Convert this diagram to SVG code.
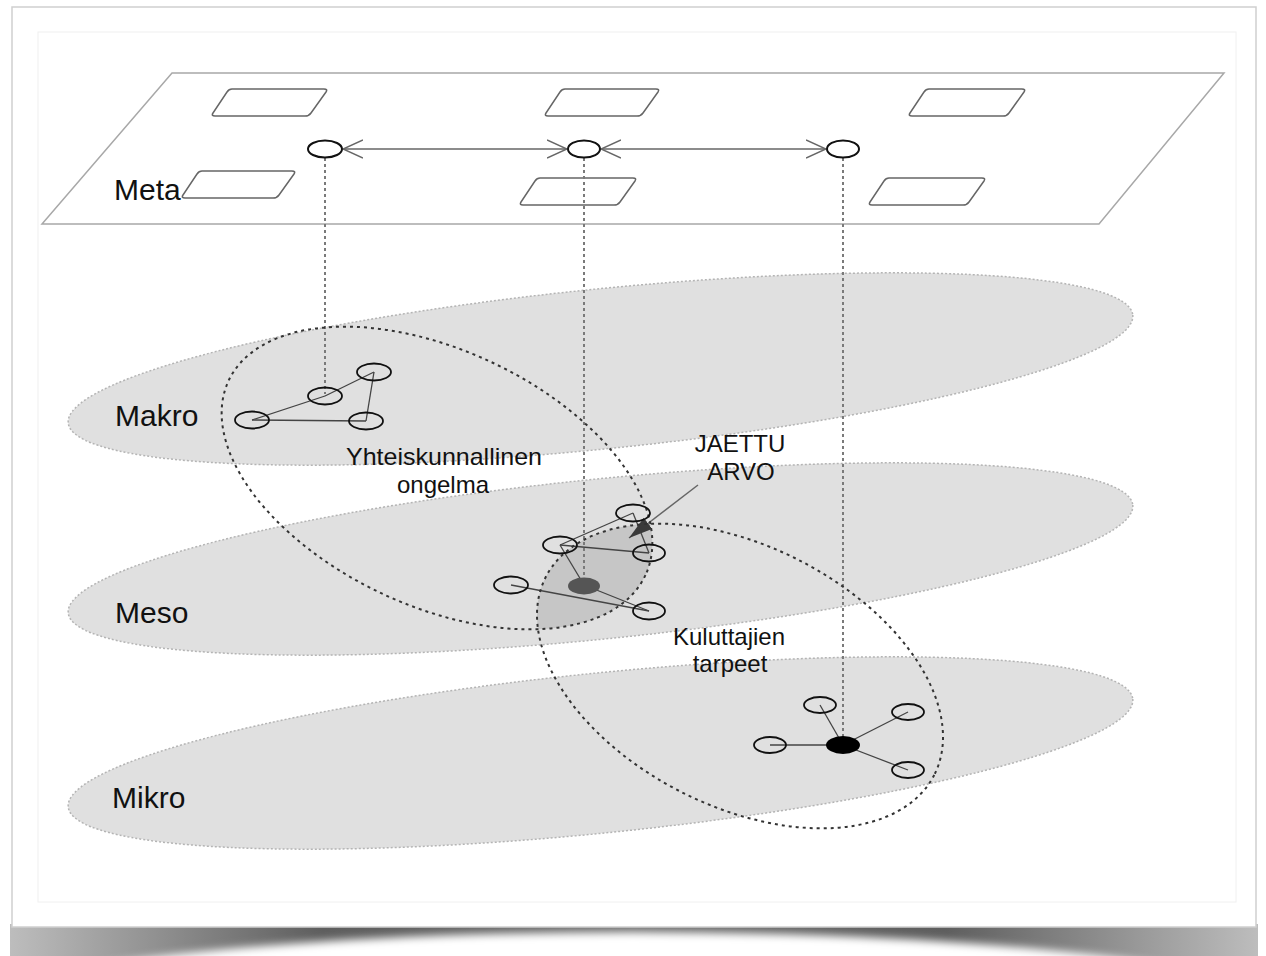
<svg xmlns="http://www.w3.org/2000/svg" width="1266" height="956" viewBox="0 0 1266 956">
  <defs>
    <style>
      .layer{fill:#e0e0e0;stroke:#b4b4b4;stroke-width:1.5;stroke-dasharray:2 2}
      .plane{fill:#fff;stroke:#a8a8a8;stroke-width:1.5}
      .slot{fill:none;stroke:#666;stroke-width:1.5;stroke-linejoin:round}
      .node{fill:none;stroke:#111;stroke-width:1.8}
      .metanode{fill:#fff;stroke:#111;stroke-width:2}
      .edge{stroke:#444;stroke-width:1.3;fill:none}
      .link{stroke:#666;stroke-width:1.5;fill:none}
      .drop{stroke:#7a7a7a;stroke-width:2;stroke-dasharray:3 3;fill:none}
      .scope{fill:none;stroke:#333;stroke-width:2;stroke-dasharray:3 4}
      .lbl{font-family:"Liberation Sans",Arial,sans-serif;fill:#111}
      .big{font-size:30px}
      .small{font-size:24px}
    </style>
    <marker id="open" viewBox="0 0 20 20" refX="20" refY="10" markerWidth="20" markerHeight="20" markerUnits="userSpaceOnUse" orient="auto-start-reverse">
      <path d="M0,1 L20,10 L0,19" fill="none" stroke="#666" stroke-width="1.5"/>
    </marker>
    <marker id="solid" viewBox="0 0 24 14" refX="24" refY="7" markerWidth="24" markerHeight="14" markerUnits="userSpaceOnUse" orient="auto">
      <path d="M0,0 L24,7 L0,14 Z" fill="#3a3a3a"/>
    </marker>
    <clipPath id="socialClip">
      <ellipse cx="437" cy="478" rx="230" ry="128" transform="rotate(25 437 478)"/>
    </clipPath>
    <linearGradient id="shade" x1="0" y1="0" x2="1" y2="0">
      <stop offset="0" stop-color="#bdbdbd"/>
      <stop offset="0.25" stop-color="#5e5e5e"/>
      <stop offset="0.5" stop-color="#6a6a6a"/>
      <stop offset="0.75" stop-color="#5e5e5e"/>
      <stop offset="1" stop-color="#bdbdbd"/>
    </linearGradient>
    <filter id="soft" x="-10%" y="-50%" width="120%" height="200%">
      <feGaussianBlur stdDeviation="4"/>
    </filter>
  </defs>

  <!-- paper sheet with curled drop shadow -->
  <g id="sheet">
    <rect x="0" y="0" width="1266" height="956" fill="#fff"/>
    <rect x="10" y="924" width="1248" height="32" fill="url(#shade)"/>
    <ellipse cx="633" cy="1010" rx="650" ry="78" fill="#fff" filter="url(#soft)"/>
    <rect x="12" y="7" width="1244" height="920" fill="#fff" stroke="#cfcfcf" stroke-width="1.5"/>
    <rect x="38" y="32" width="1198" height="870" fill="none" stroke="#f0f0f0" stroke-width="1"/>
  </g>

  <!-- grey level bands -->
  <g id="levels">
    <ellipse id="makro-band" class="layer" cx="600.5" cy="369" rx="535" ry="80" transform="rotate(-5.79 600.5 369)"/>
    <ellipse id="meso-band" class="layer" cx="600.5" cy="559" rx="535" ry="80" transform="rotate(-5.79 600.5 559)"/>
    <ellipse id="mikro-band" class="layer" cx="600.5" cy="753" rx="535" ry="80" transform="rotate(-5.79 600.5 753)"/>
  </g>

  <!-- overlap of the two scopes -->
  <g id="shared-area" clip-path="url(#socialClip)">
    <ellipse cx="740" cy="676" rx="218" ry="130" transform="rotate(27 740 676)" fill="#c6c6c6"/>
  </g>

  <!-- meta plane -->
  <g id="meta">
    <polygon class="plane" points="172,73 1224,73 1099,224 42,224"/>
    <path class="slot" d="M232,89 L324,89 Q328,89 326,92 L311,113 Q309,116 305,116 L215,116 Q211,116 213,113 L227,92 Q229,89 232,89 Z"/>
    <path class="slot" d="M565,89 L656,89 Q660,89 658,92 L643,113 Q641,116 637,116 L548,116 Q544,116 546,113 L560,92 Q562,89 565,89 Z"/>
    <path class="slot" d="M929,89 L1022,89 Q1026,89 1024,92 L1009,113 Q1007,116 1003,116 L912,116 Q908,116 910,113 L924,92 Q926,89 929,89 Z"/>
    <path class="slot" d="M202,171 L292,171 Q296,171 294,174 L279,195 Q277,198 273,198 L185,198 Q181,198 183,195 L197,174 Q199,171 202,171 Z"/>
    <path class="slot" d="M540,178 L633,178 Q637,178 635,181 L620,202 Q618,205 614,205 L523,205 Q519,205 521,202 L535,181 Q537,178 540,178 Z"/>
    <path class="slot" d="M889,178 L982,178 Q986,178 984,181 L969,202 Q967,205 963,205 L872,205 Q868,205 870,202 L884,181 Q886,178 889,178 Z"/>
    <text class="lbl big" x="114" y="200">Meta</text>
  </g>

  <!-- connectors -->
  <g id="connectors">
    <line class="drop" x1="325" y1="158" x2="325" y2="394"/>
    <line class="drop" x1="584" y1="158" x2="584" y2="580"/>
    <line class="drop" x1="843" y1="158" x2="843" y2="742"/>
    <line class="link" x1="343" y1="149" x2="567" y2="149" marker-start="url(#open)" marker-end="url(#open)"/>
    <line class="link" x1="601" y1="149" x2="826" y2="149" marker-start="url(#open)" marker-end="url(#open)"/>
    <!-- makro network -->
    <line class="edge" x1="325" y1="396" x2="374" y2="372"/>
    <line class="edge" x1="374" y1="372" x2="366" y2="421"/>
    <line class="edge" x1="252" y1="420" x2="325" y2="396"/>
    <line class="edge" x1="252" y1="420" x2="366" y2="421"/>
    <!-- meso network -->
    <line class="edge" x1="560" y1="545" x2="633" y2="513"/>
    <line class="edge" x1="560" y1="545" x2="649" y2="553"/>
    <line class="edge" x1="633" y1="513" x2="649" y2="553"/>
    <line class="edge" x1="560" y1="545" x2="584" y2="585"/>
    <line class="edge" x1="511" y1="585" x2="649" y2="611"/>
    <line class="edge" x1="584" y1="585" x2="649" y2="611"/>
    <!-- mikro network -->
    <line class="edge" x1="843" y1="745" x2="820" y2="705"/>
    <line class="edge" x1="843" y1="745" x2="908" y2="712"/>
    <line class="edge" x1="843" y1="745" x2="770" y2="745"/>
    <line class="edge" x1="843" y1="745" x2="908" y2="770"/>
    <!-- pointer to the shared value -->
    <line x1="698" y1="485" x2="629" y2="538" stroke="#666" stroke-width="1.5" marker-end="url(#solid)"/>
  </g>

  <!-- dotted scopes -->
  <g id="scope-yhteiskunta">
    <ellipse class="scope" cx="437" cy="478" rx="230" ry="128" transform="rotate(25 437 478)"/>
    <text class="lbl small" x="444" y="465" text-anchor="middle" textLength="196" lengthAdjust="spacingAndGlyphs">Yhteiskunnallinen</text>
    <text class="lbl small" x="443" y="493" text-anchor="middle">ongelma</text>
  </g>
  <g id="scope-kuluttajat">
    <ellipse class="scope" cx="740" cy="676" rx="218" ry="130" transform="rotate(27 740 676)"/>
    <text class="lbl small" x="729" y="645" text-anchor="middle">Kuluttajien</text>
    <text class="lbl small" x="730" y="672" text-anchor="middle">tarpeet</text>
  </g>
  <g id="jaettu-arvo">
    <text class="lbl small" x="740" y="452" text-anchor="middle">JAETTU</text>
    <text class="lbl small" x="741" y="480" text-anchor="middle">ARVO</text>
  </g>

  <!-- meta nodes -->
  <g id="meta-nodes">
    <ellipse id="meta-a" class="metanode" cx="325" cy="149" rx="17" ry="8.5"/>
    <ellipse id="meta-b" class="metanode" cx="584" cy="149" rx="16" ry="8.5"/>
    <ellipse id="meta-c" class="metanode" cx="843" cy="149" rx="16" ry="8.5"/>
  </g>

  <!-- makro level -->
  <g id="makro">
    <text class="lbl big" x="115" y="426">Makro</text>
    <ellipse class="node" cx="325" cy="396" rx="17" ry="8.5"/>
    <ellipse class="node" cx="374" cy="372" rx="17" ry="8.5"/>
    <ellipse class="node" cx="366" cy="421" rx="17" ry="8.5"/>
    <ellipse class="node" cx="252" cy="420" rx="17" ry="8.5"/>
  </g>

  <!-- meso level -->
  <g id="meso">
    <text class="lbl big" x="115" y="623">Meso</text>
    <ellipse class="node" cx="633" cy="513" rx="17" ry="8.5"/>
    <ellipse class="node" cx="560" cy="545" rx="17" ry="8.5"/>
    <ellipse class="node" cx="649" cy="553" rx="16" ry="8.5"/>
    <ellipse class="node" cx="511" cy="585" rx="17" ry="8.5"/>
    <ellipse class="node" cx="649" cy="611" rx="16" ry="8.5"/>
    <ellipse cx="584" cy="586" rx="16" ry="8.5" fill="#555"/>
  </g>

  <!-- mikro level -->
  <g id="mikro">
    <text class="lbl big" x="112" y="808">Mikro</text>
    <ellipse class="node" cx="820" cy="705" rx="16" ry="8"/>
    <ellipse class="node" cx="908" cy="712" rx="16" ry="8"/>
    <ellipse class="node" cx="770" cy="745" rx="16" ry="8"/>
    <ellipse class="node" cx="908" cy="770" rx="16" ry="8"/>
    <ellipse cx="843" cy="745" rx="17" ry="9" fill="#000"/>
  </g>
</svg>
